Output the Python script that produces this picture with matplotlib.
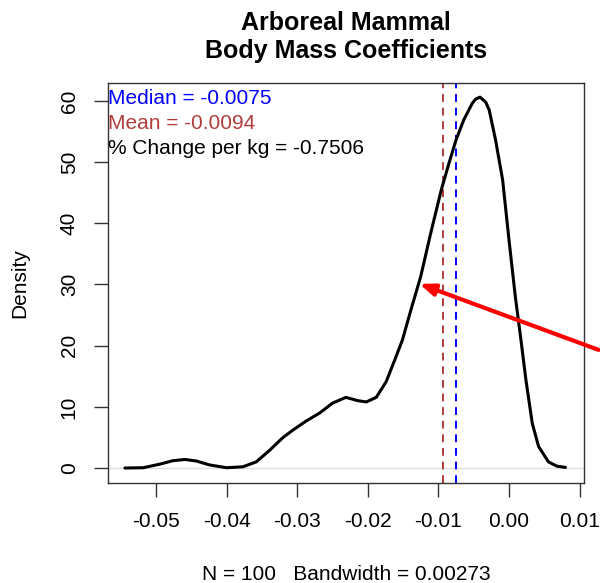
import numpy as np
import matplotlib
matplotlib.use("Agg")
import matplotlib.pyplot as plt

plt.rcParams['font.family'] = ['Liberation Sans', 'DejaVu Sans']

# density curve
dens_x = [-0.0544, -0.0518, -0.0494, -0.0476, -0.0459, -0.0443, -0.0424, -0.0400,
          -0.0377, -0.0358, -0.0339, -0.0320, -0.0306, -0.0287, -0.0268, -0.0250,
          -0.0231, -0.0214, -0.0202, -0.0188, -0.0174, -0.0162, -0.0151, -0.0139,
          -0.0125, -0.0111, -0.0096, -0.0085, -0.0075, -0.0064, -0.0052, -0.0047,
          -0.0041, -0.0033, -0.0028, -0.0019, -0.0009, 0.0000, 0.0009, 0.0017,
          0.0024, 0.0033, 0.0042, 0.0056, 0.0068, 0.0080]
dens_y = [0.0, 0.05, 0.65, 1.2, 1.4, 1.15, 0.5, 0.05,
          0.2, 1.0, 2.9, 5.0, 6.2, 7.7, 9.0, 10.6,
          11.55, 11.0, 10.8, 11.55, 14.1, 17.6, 20.9, 25.8,
          31.3, 38.3, 45.4, 49.8, 53.6, 56.9, 59.6, 60.3,
          60.6, 59.8, 58.5, 53.6, 47.1, 37.3, 28.0, 20.9,
          14.4, 7.3, 3.5, 1.0, 0.3, 0.1]

median_val = -0.0075
mean_val = -0.0094
pct_change = -0.7506
n_obs = 100
bandwidth = 0.00273

xticks = [-0.05, -0.04, -0.03, -0.02, -0.01, 0.00, 0.01]
xtick_labels = ['-0.05', '-0.04', '-0.03', '-0.02', '-0.01', '0.00', '0.01']
yticks = [0, 10, 20, 30, 40, 50, 60]

# arrow (tail runs off the right side of the figure)
arrow_head = (-0.0127, 30.1)
arrow_tail = (0.0127, 19.3)

fig = plt.figure(figsize=(6, 5.83), dpi=100)
ax = fig.add_axes([0.18, 0.1715, 0.793, 0.686])

ax.axhline(0, color='#dddddd', lw=1, zorder=1)
ax.plot(dens_x, dens_y, color='black', lw=2.2, zorder=3, solid_capstyle='round')
ax.axvline(mean_val, color='#b03c3c', lw=1.4, ls=(0, (4, 3)), zorder=2)
ax.axvline(median_val, color='#0000ff', lw=1.4, ls=(0, (4, 3)), zorder=2)

ax.annotate('', xy=arrow_head, xytext=arrow_tail, xycoords='data',
            arrowprops=dict(arrowstyle='-|>,head_length=0.9,head_width=0.35',
                            color='#ff0000', lw=3, shrinkA=0, shrinkB=0),
            annotation_clip=False, zorder=5)

ax.text(0.0, 0.985, 'Median = %.4f' % median_val, transform=ax.transAxes,
        color='#0000ff', fontsize=15, va='top', ha='left')
ax.text(0.0, 0.9225, 'Mean = %.4f' % mean_val, transform=ax.transAxes,
        color='#b03c3c', fontsize=15, va='top', ha='left')
ax.text(0.0, 0.86, '% Change per kg = ' + '%.4f' % pct_change, transform=ax.transAxes,
        color='black', fontsize=15, va='top', ha='left')

ax.set_xlim(-0.0568, 0.0106)
ax.set_ylim(-2.45, 62.9)
ax.set_xticks(xticks)
ax.set_xticklabels(xtick_labels)
ax.set_yticks(yticks)
ax.tick_params(axis='both', direction='out', length=10, width=1, labelsize=15, pad=11,
               color='#333333')
for lab in ax.get_yticklabels():
    lab.set_rotation(90)
    lab.set_va('center')
for sp in ax.spines.values():
    sp.set_color('#333333')
    sp.set_linewidth(1)

ax.set_xlabel('N = %d   Bandwidth = %.5f' % (n_obs, bandwidth), fontsize=15, labelpad=24)
ax.set_ylabel('Density', fontsize=15, labelpad=22)
ax.set_title('Arboreal Mammal\nBody Mass Coefficients', fontsize=18, fontweight='bold', pad=18)

fig.savefig('out.png', dpi=100)
